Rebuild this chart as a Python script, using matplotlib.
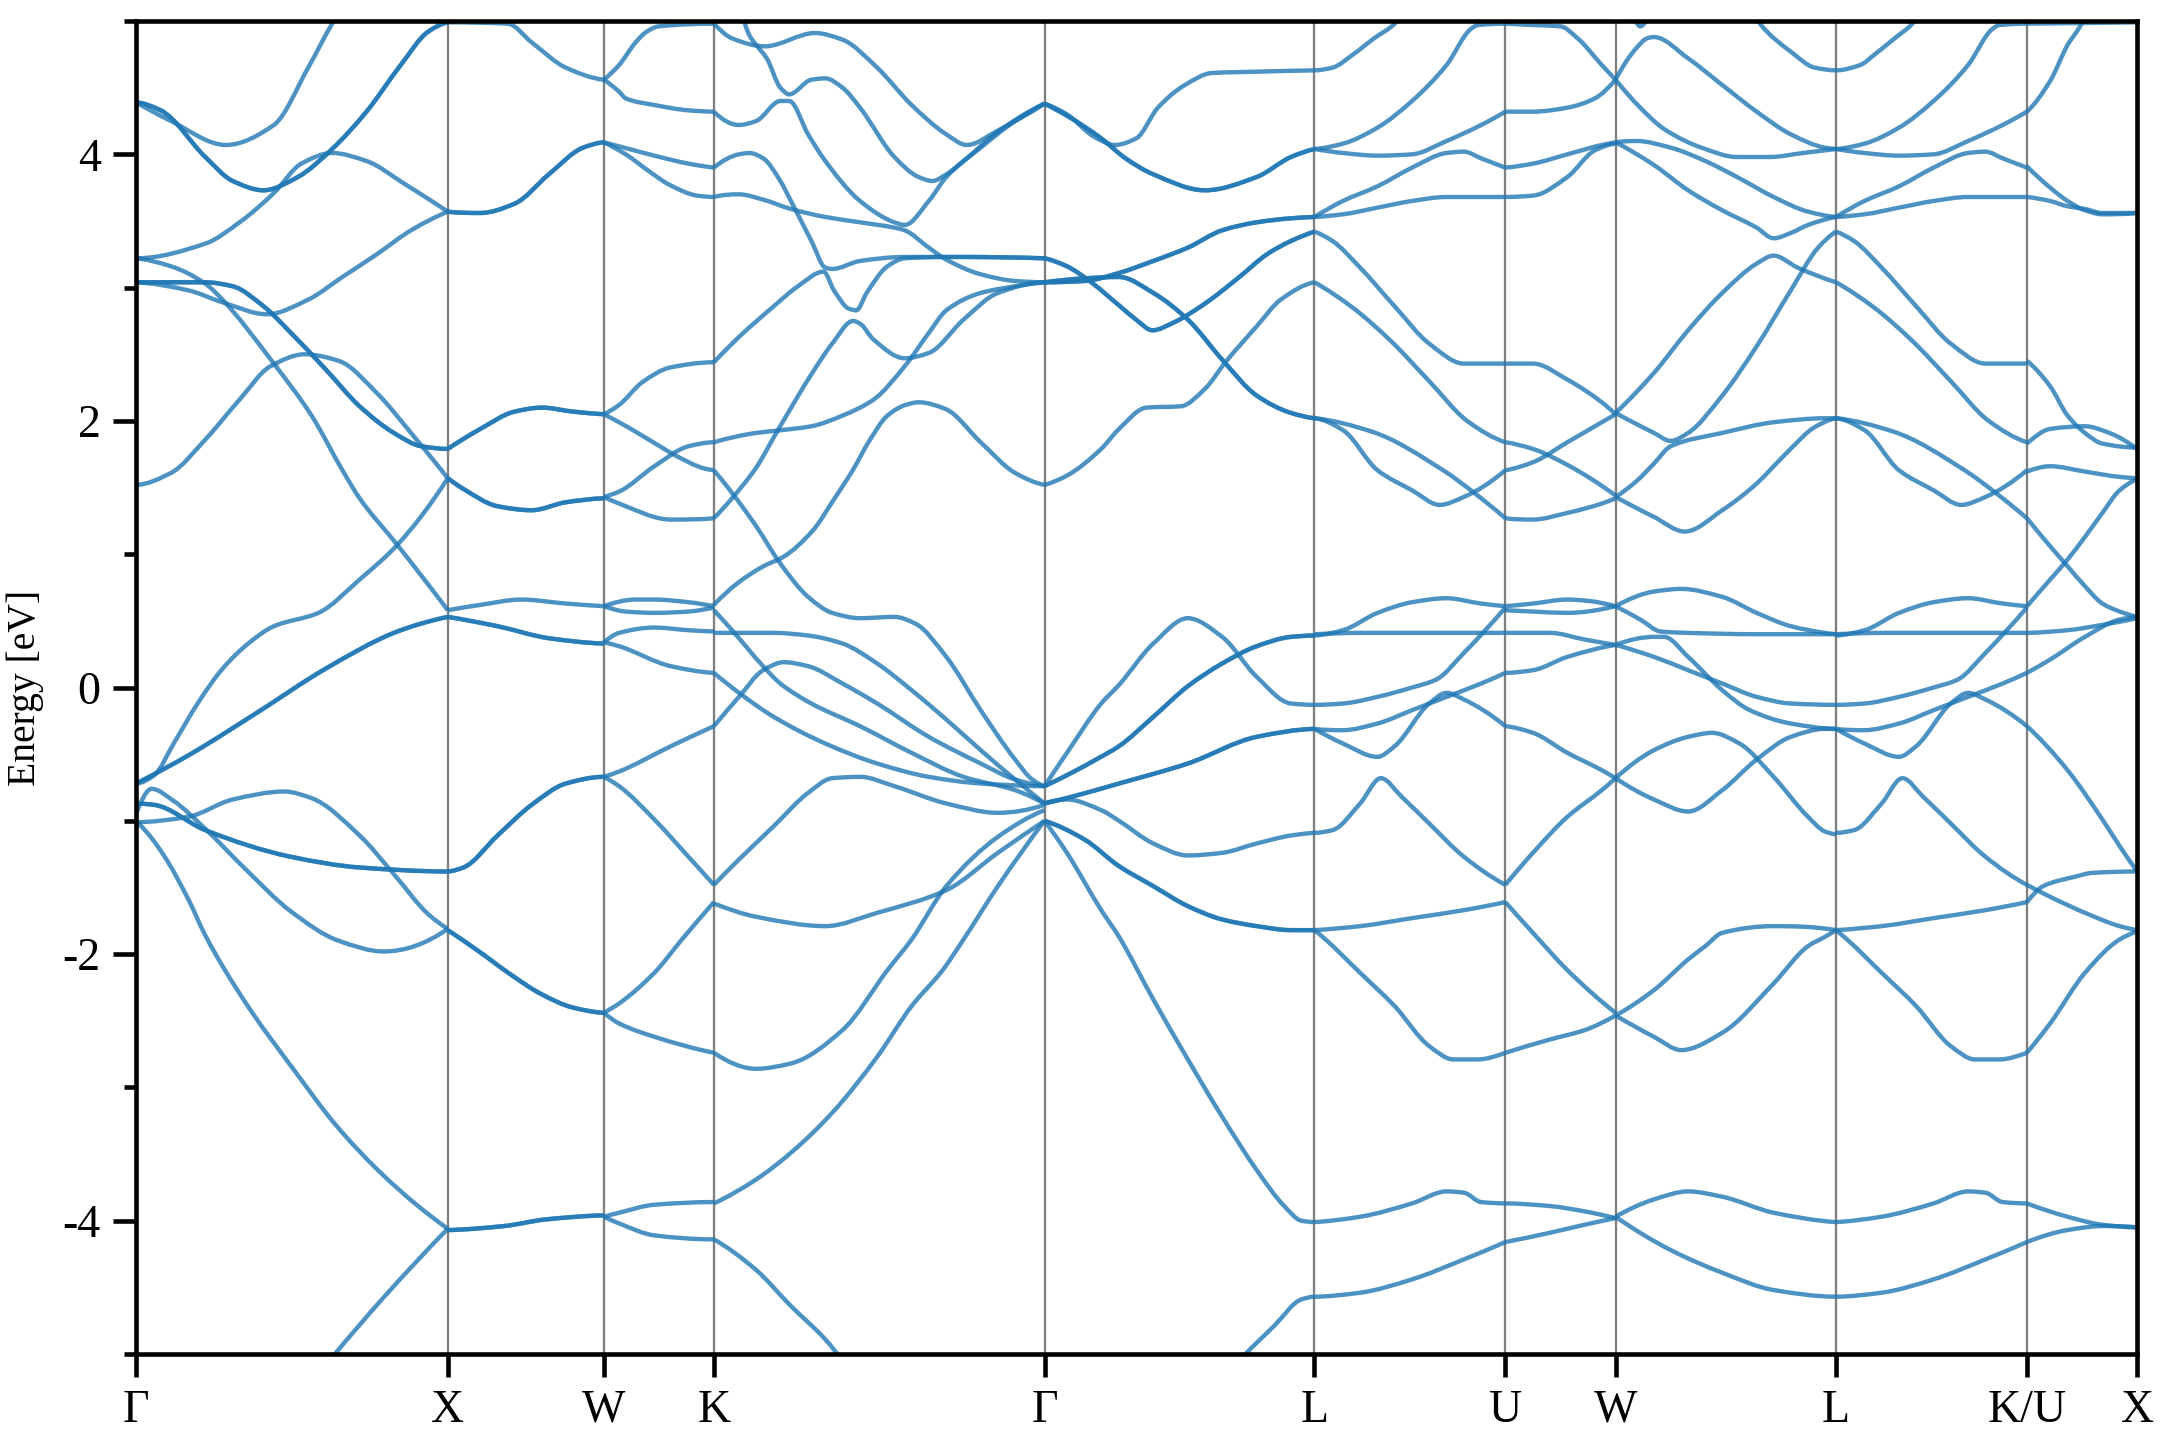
import matplotlib
matplotlib.use('Agg')
import matplotlib.pyplot as plt
from matplotlib.ticker import MultipleLocator
from matplotlib.path import Path
from matplotlib.patches import PathPatch
import numpy as np

plt.rcParams['font.family'] = ['Liberation Serif', 'DejaVu Serif']
plt.rcParams['axes.unicode_minus'] = False

# ---------------- data ----------------
kpath_labels = ['Γ', 'X', 'W', 'K', 'Γ', 'L', 'U', 'W', 'L', 'K/U', 'X']
seg_lengths = [1.0, 0.5, 0.35355, 1.06066, 0.86603, 0.61237, 0.35355, 0.70711, 0.61237, 0.35355]

# each band: (fraction along segment, energy [eV], degeneracy)
seg_GX = [
    ([0, .112, .288, .442, .552, .629, .662], [4.39, 4.25, 4.07, 4.22, 4.65, 4.98, 5.1], 1),
    ([0, .079, .222, .310, .409, .519, .629, .739, .849, .937, 1], [4.39, 4.33, 3.98, 3.80, 3.73, 3.83, 4.04, 4.32, 4.67, 4.92, 4.99], 2),
    ([0, .222, .332, .442, .530, .629, .739, .860, 1], [3.22, 3.33, 3.49, 3.71, 3.93, 4.01, 3.95, 3.78, 3.57], 1),
    ([0, .112, .222, .277, .442, .563, .662, .717, .838, 1], [3.22, 3.16, 3.03, 2.91, 2.43, 2.04, 1.63, 1.42, 1.07, .58], 1),
    ([0, .167, .277, .420, .552, .662, .772, .882, 1], [3.04, 2.98, 2.89, 2.80, 2.91, 3.08, 3.25, 3.43, 3.57], 1),
    ([0, .222, .310, .409, .497, .607, .717, .827, .915, 1], [3.04, 3.04, 3.01, 2.86, 2.66, 2.39, 2.11, 1.91, 1.81, 1.79], 2),
    ([0, .112, .222, .332, .431, .541, .651, .772, .882, 1], [1.52, 1.61, 1.86, 2.16, 2.41, 2.50, 2.45, 2.21, 1.91, 1.57], 1),
    ([0, .057, .123, .200, .277, .365, .442, .585, .717, .838, 1], [-.72, -.66, -.41, -.11, .14, .34, .46, .56, .81, 1.07, 1.57], 1),
    ([0, .167, .387, .607, .827, .915, 1], [-.72, -.51, -.19, .14, .41, .48, .53], 2),
    ([0, .167, .310, .475, .563, .717, .827, .937, 1], [-1.01, -.97, -.84, -.78, -.83, -1.11, -1.40, -1.70, -1.81], 1),
    ([0, .057, .222, .497, .717, 1], [-.87, -.88, -1.07, -1.27, -1.35, -1.38], 2),
    ([0, .05, .12, .222, .35, .497, .65, .794, 1], [-.95, -.76, -.85, -1.06, -1.36, -1.68, -1.90, -1.98, -1.81], 1),
    ([0, .05, .1, .17, .22, .28, .37, .51, .64, .78, .91, 1], [-1.0, -1.13, -1.30, -1.60, -1.85, -2.10, -2.43, -2.88, -3.28, -3.63, -3.90, -4.06], 1),
    ([.62, .8, 1], [-5.05, -4.56, -4.06], 1),
]

seg_XW = [
    ([0, .385, .538, .758, 1], [4.99, 4.98, 4.84, 4.65, 4.56], 1),
    ([0, .2], [4.99, 5.12], 1),
    ([0, .209, .429, .648, .868, 1], [3.57, 3.56, 3.63, 3.85, 4.05, 4.09], 2),
    ([0, .209, .429, .604, .802, 1], [1.79, 1.94, 2.07, 2.10, 2.07, 2.05], 2),
    ([0, .1, .319, .538, .758, 1], [1.57, 1.49, 1.36, 1.33, 1.39, 1.42], 2),
    ([0, .209, .473, .758, 1], [.58, .62, .66, .63, .61], 1),
    ([0, .319, .648, 1], [.53, .46, .37, .33], 2),
    ([0, .1, .319, .538, .758, 1], [-1.38, -1.35, -1.11, -.88, -.72, -.67], 2),
    ([0, .2, .4, .6, .8, 1], [-1.82, -1.98, -2.15, -2.30, -2.40, -2.44], 2),
    ([0, .36, .63, 1], [-4.07, -4.04, -3.99, -3.96], 2),
]

seg_WK = [
    ([0, .14, .29, .39, .5, 1], [4.56, 4.67, 4.84, 4.92, 4.96, 4.98], 1),
    ([0, .14, .2, .46, .77, 1], [4.56, 4.47, 4.42, 4.37, 4.33, 4.32], 1),
    ([0, .14, .46, .77, 1], [4.09, 4.06, 3.99, 3.93, 3.90], 1),
    ([0, .2, .4, .6, .85, 1], [4.09, 4.0, 3.88, 3.77, 3.69, 3.68], 1),
    ([0, .14, .35, .6, 1], [2.05, 2.12, 2.29, 2.40, 2.44], 1),
    ([0, .14, .51, .61, .93, 1], [2.05, 1.99, 1.81, 1.76, 1.64, 1.63], 1),
    ([0, .14, .46, .77, 1], [1.43, 1.47, 1.66, 1.81, 1.84], 1),
    ([0, .14, .61, 1], [1.43, 1.38, 1.26, 1.27], 1),
    ([0, .29, .46, .77, 1], [.61, .66, .66, .64, .61], 1),
    ([0, .2, .46, .77, 1], [.61, .57, .56, .57, .60], 1),
    ([0, .14, .46, .77, 1], [.34, .41, .45, .43, .42], 1),
    ([0, .14, .61, 1], [.34, .31, .16, .11], 1),
    ([0, .14, .61, 1], [-.67, -.63, -.44, -.29], 1),
    ([0, .14, .46, .77, 1], [-.67, -.74, -.99, -1.27, -1.48], 1),
    ([0, .14, .46, .71, 1], [-2.44, -2.37, -2.14, -1.89, -1.61], 1),
    ([0, .14, .46, 1], [-2.44, -2.52, -2.62, -2.74], 1),
    ([0, .14, .46, 1], [-3.97, -3.94, -3.88, -3.86], 1),
    ([0, .14, .46, 1], [-3.97, -4.02, -4.11, -4.14], 1),
]

seg_KG = [
    ([0, .055, .154, .306, .389, .494, .598, .703, .765, .86, 1], [4.98, 4.87, 4.81, 4.91, 4.86, 4.65, 4.37, 4.15, 4.07, 4.18, 4.38], 1),
    ([.085, .108, .128, .160, .201, .228, .295, .337, .389, .442, .546, .619, .661, .703, .755, .859, 1],
     [5.05, 4.89, 4.82, 4.72, 4.50, 4.45, 4.56, 4.57, 4.50, 4.35, 3.98, 3.83, 3.80, 3.85, 3.95, 4.17, 4.38], 1),
    ([0, .076, .128, .201, .228, .285, .337, .442, .546, .577, .650, .703, .807, .911, 1],
     [4.32, 4.22, 4.25, 4.40, 4.40, 4.15, 3.95, 3.65, 3.49, 3.47, 3.65, 3.83, 4.05, 4.25, 4.38], 1),
    ([0, .076, .108, .149, .201, .233, .295, .337, .358, .442, .577, .755, 1],
     [3.90, 4.00, 4.01, 3.97, 3.80, 3.65, 3.35, 3.15, 3.14, 3.20, 3.23, 3.23, 3.22], 1),
    ([0, .076, .181, .254, .332, .363, .410, .431, .462, .525, .577, .70, 1],
     [2.44, 2.63, 2.86, 3.01, 3.12, 2.98, 2.84, 2.83, 2.96, 3.16, 3.22, 3.23, 3.22], 1),
    ([0, .076, .149, .233, .337, .442, .546, .577, .650, .703, .807, .911, 1],
     [3.68, 3.70, 3.66, 3.59, 3.53, 3.49, 3.45, 3.43, 3.30, 3.21, 3.10, 3.05, 3.04], 1),
    ([0, .055, .128, .191, .295, .358, .421, .442, .483, .577, .650, .755, .859, 1],
     [1.27, 1.42, 1.65, 1.92, 2.35, 2.58, 2.75, 2.73, 2.61, 2.47, 2.51, 2.76, 2.96, 3.04], 1),
    ([0, .128, .201, .295, .389, .483, .577, .650, .703, .807, .911, 1],
     [1.84, 1.91, 1.93, 1.96, 2.04, 2.16, 2.41, 2.66, 2.83, 2.96, 3.01, 3.04], 1),
    ([0, .055, .128, .201, .285, .358, .442, .546, .609, .703, .807, .911, .963, 1],
     [1.63, 1.46, 1.21, .93, .68, .56, .52, .53, .48, .23, -.17, -.54, -.69, -.74], 1),
    ([0, .07, .15, .21, .30, .36, .42, .47, .525, .58, .62, .70, .807, .911, 1],
     [.62, .78, .91, .98, 1.18, 1.40, 1.63, 1.85, 2.04, 2.12, 2.14, 2.09, 1.84, 1.61, 1.52], 1),
    ([0, .055, .149, .201, .295, .442, .598, .755, .911, 1], [.58, .43, .16, .03, -.12, -.29, -.49, -.67, -.77, -.87], 1),
    ([0, .181, .285, .389, .494, .598, .703, .807, .911, 1], [.41, .41, .39, .33, .18, -.02, -.24, -.47, -.69, -.87], 1),
    ([0, .076, .181, .337, .494, .650, .807, 1], [.11, -.04, -.22, -.42, -.57, -.67, -.72, -.74], 1),
    ([0, .076, .149, .212, .285, .389, .494, .650, .807, .911, 1], [-.29, -.07, .13, .19, .16, .03, -.12, -.37, -.57, -.69, -.74], 1),
    ([0, .076, .181, .285, .358, .442, .546, .703, .859, 1], [-1.48, -1.29, -1.04, -.79, -.68, -.67, -.74, -.87, -.94, -.88], 1),
    ([0, .128, .337, .494, .703, .859, 1], [-1.62, -1.72, -1.79, -1.69, -1.52, -1.24, -1.0], 1),
    ([0, .128, .233, .389, .525, .598, .703, .859, 1], [-2.74, -2.86, -2.82, -2.57, -2.12, -1.89, -1.49, -1.12, -.92], 1),
    ([0, .128, .233, .358, .494, .598, .692, .755, .859, 1], [-3.87, -3.69, -3.49, -3.19, -2.77, -2.39, -2.12, -1.89, -1.49, -1.0], 1),
    ([0, .128, .233, .337, .389], [-4.14, -4.37, -4.64, -4.89, -5.05], 1),
]

seg_GL = [
    ([0, .083, .21, .30, .403, .594, .786, .913, 1], [4.38, 4.29, 4.12, 3.97, 3.85, 3.73, 3.83, 3.98, 4.04], 2),
    ([0, .083, .185, .26, .34, .42, .52, .62, .786, 1], [4.38, 4.30, 4.13, 4.07, 4.12, 4.35, 4.52, 4.61, 4.62, 4.63], 1),
    ([0, .083, .16, .28, .339, .40, .48, .594, .722, .824, .913, 1], [3.22, 3.16, 3.06, 2.86, 2.76, 2.68, 2.74, 2.88, 3.08, 3.25, 3.35, 3.42], 2),
    ([0, .15, .276, .403, .531, .658, .786, .913, 1], [3.04, 3.05, 3.11, 3.20, 3.30, 3.43, 3.49, 3.52, 3.53], 2),
    ([0, .15, .276, .403, .531, .658, .786, .913, 1], [3.04, 3.07, 3.08, 2.96, 2.76, 2.46, 2.19, 2.06, 2.02], 2),
    ([0, .083, .21, .276, .378, .505, .594, .67, .786, .875, 1], [1.52, 1.59, 1.79, 1.94, 2.10, 2.11, 2.24, 2.44, 2.71, 2.91, 3.04], 1),
    ([0, .083, .21, .276, .403, .531, .658, .786, .913, 1], [-.74, -.49, -.12, .02, .33, .52, .38, .08, -.12, -.13], 1),
    ([0, .1, .2, .276, .403, .531, .658, .786, .913, 1], [-.74, -.64, -.53, -.44, -.22, .01, .18, .31, .38, .39], 2),
    ([0, .1, .276, .531, .786, 1], [-.87, -.82, -.72, -.57, -.37, -.31], 2),
    ([0, .083, .21, .276, .403, .531, .658, .786, .913, 1], [-.87, -.84, -.92, -1.0, -1.17, -1.26, -1.24, -1.17, -1.11, -1.09], 1),
    ([0, .148, .276, .403, .531, .658, .786, .913, 1], [-1.0, -1.14, -1.34, -1.49, -1.64, -1.74, -1.79, -1.82, -1.82], 2),
    ([0, .083, .21, .276, .403, .531, .658, .786, .888, .952, 1], [-1.0, -1.24, -1.67, -1.87, -2.34, -2.79, -3.22, -3.62, -3.89, -4.0, -4.01], 1),
    ([.70, .735, .85, .952, 1], [-5.1, -5.02, -4.79, -4.59, -4.57], 1),
]

seg_LU = [
    ([0, .094, .203, .312, .42, .47], [4.63, 4.65, 4.75, 4.87, 4.98, 5.08], 1),
    ([0, .149, .33, .511, .692, .819, .857, 1], [4.04, 4.08, 4.20, 4.40, 4.67, 4.94, 4.97, 4.98], 1),
    ([0, .149, .33, .511, .692, .873, 1], [4.04, 4.01, 3.99, 4.0, 4.10, 4.22, 4.32], 1),
    ([0, .149, .33, .511, .692, .783, .873, 1], [3.53, 3.65, 3.76, 3.90, 4.01, 4.02, 3.97, 3.90], 1),
    ([0, .149, .33, .511, .692, .873, 1], [3.53, 3.55, 3.60, 3.65, 3.68, 3.68, 3.68], 1),
    ([0, .094, .239, .42, .601, .783, 1], [3.42, 3.35, 3.15, 2.86, 2.58, 2.43, 2.43], 1),
    ([0, .2, .4, .6, .8, 1], [3.04, 2.85, 2.60, 2.30, 2.0, 1.84], 1),
    ([0, .15, .33, .511, .656, .783, 1], [2.02, 1.93, 1.63, 1.48, 1.37, 1.43, 1.63], 1),
    ([0, .3, .674, .837, 1], [2.02, 1.92, 1.63, 1.46, 1.27], 1),
    ([0, .149, .33, .511, .692, .873, 1], [.39, .43, .56, .64, .67, .63, .61], 1),
    ([0, .24, .6, 1], [.40, .41, .41, .41], 1),
    ([0, .149, .33, .511, .638, .783, 1], [-.13, -.12, -.07, 0.0, .06, .26, .60], 1),
    ([0, .149, .33, .42, .601, .692, .783, 1], [-.31, -.42, -.52, -.44, -.12, -.04, -.09, -.29], 1),
    ([0, .149, .33, .511, .692, .873, 1], [-.31, -.32, -.27, -.17, -.07, .03, .11], 1),
    ([0, .094, .239, .348, .457, .601, .783, 1], [-1.09, -1.07, -.87, -.68, -.82, -1.02, -1.27, -1.48], 1),
    ([0, .239, .511, .783, 1], [-1.82, -1.79, -1.73, -1.67, -1.61], 1),
    ([0, .058, .239, .42, .601, .728, .855, 1], [-1.82, -1.89, -2.14, -2.39, -2.69, -2.79, -2.79, -2.74], 1),
    ([0, .239, .511, .692, .783, .873, 1], [-4.01, -3.97, -3.87, -3.78, -3.79, -3.86, -3.87], 1),
    ([0, .239, .511, .783, 1], [-4.57, -4.54, -4.44, -4.29, -4.16], 1),
]

seg_UW = [
    ([0, .25, .5, .656, .875, 1], [4.98, 4.97, 4.96, 4.87, 4.67, 4.56], 1),
    ([0, .25, .5625, .8125, 1], [4.32, 4.32, 4.35, 4.42, 4.56], 1),
    ([0, .25, .5625, .875, 1], [3.90, 3.93, 4.0, 4.07, 4.09], 1),
    ([0, .25, .5625, .8125, 1], [3.68, 3.69, 3.83, 4.03, 4.08], 1),
    ([0, .25, .5625, .875, 1], [2.43, 2.43, 2.31, 2.14, 2.05], 1),
    ([0, .25, .5625, 1], [1.63, 1.69, 1.84, 2.05], 1),
    ([0, .25, .5625, 1], [1.84, 1.79, 1.67, 1.44], 1),
    ([0, .25, .5625, .875, 1], [1.27, 1.26, 1.31, 1.38, 1.42], 1),
    ([0, .25, .5625, .75, 1], [.61, .63, .66, .65, .61], 1),
    ([0, .25, .5625, 1], [.58, .57, .56, .61], 1),
    ([0, .406, .72, 1], [.41, .41, .36, .32], 1),
    ([0, .25, .5625, 1], [.11, .13, .23, .32], 1),
    ([0, .25, .5625, .875, 1], [-.29, -.34, -.49, -.62, -.68], 1),
    ([0, .25, .5625, .875, 1], [-1.48, -1.24, -.97, -.77, -.68], 1),
    ([0, .25, .5625, 1], [-1.61, -1.84, -2.12, -2.44], 1),
    ([0, .406, .72, 1], [-2.74, -2.64, -2.57, -2.46], 1),
    ([0, .406, .72, 1], [-3.87, -3.89, -3.93, -3.98], 1),
    ([0, .406, .72, 1], [-4.16, -4.09, -4.03, -3.98], 1),
]

seg_WL = [
    ([.05, .09, .112, .14, .18], [5.1, 5.0, 4.96, 5.0, 5.1], 1),
    ([0, .096, .143, .174, .329, .484, .64, .795, .95, 1], [4.56, 4.80, 4.87, 4.88, 4.72, 4.52, 4.32, 4.15, 4.05, 4.04], 1),
    ([0, .112, .22, .39, .55, .70, .85, 1], [4.56, 4.35, 4.19, 4.05, 3.98, 3.98, 4.01, 4.04], 1),
    ([0, .096, .25, .407, .562, .717, .873, 1], [4.09, 4.10, 4.05, 3.95, 3.82, 3.68, 3.57, 3.53], 1),
    ([0, .174, .329, .484, .64, .717, .795, .873, 1], [4.09, 3.92, 3.73, 3.58, 3.45, 3.37, 3.41, 3.47, 3.53], 1),
    ([0, .174, .329, .484, .64, .717, .826, 1], [2.06, 2.36, 2.68, 2.96, 3.18, 3.24, 3.15, 3.04], 1),
    ([0, .174, .25, .329, .484, .64, .795, .919, 1], [2.06, 1.91, 1.85, 1.91, 2.19, 2.56, 2.98, 3.30, 3.42], 1),
    ([0, .096, .174, .25, .484, .717, .95, 1], [1.43, 1.55, 1.68, 1.81, 1.91, 1.99, 2.02, 2.02], 1),
    ([0, .174, .314, .484, .64, .70, .80, .9, 1], [1.43, 1.28, 1.17, 1.33, 1.53, 1.63, 1.80, 1.95, 2.02], 1),
    ([0, .174, .298, .484, .64, .795, .95, 1], [.61, .72, .74, .68, .56, .46, .41, .40], 1),
    ([0, .112, .205, .329, .64, 1], [.61, .51, .42, .41, .40, .40], 1),
    ([0, .174, .22, .329, .484, .609, .795, 1], [.32, .38, .38, .23, -.02, -.17, -.27, -.31], 1),
    ([0, .174, .329, .484, .64, .795, 1], [.32, .23, .13, .03, -.07, -.12, -.13], 1),
    ([0, .174, .329, .438, .562, .717, .873, .95, 1], [-.68, -.47, -.37, -.34, -.42, -.67, -.97, -1.08, -1.10], 1),
    ([0, .174, .329, .484, .64, .795, .95, 1], [-.68, -.84, -.93, -.77, -.54, -.37, -.31, -.31], 1),
    ([0, .174, .329, .407, .484, .717, 1], [-2.46, -2.27, -2.04, -1.94, -1.84, -1.79, -1.82], 1),
    ([0, .174, .298, .484, .717, .873, .95, 1], [-2.46, -2.62, -2.72, -2.59, -2.22, -1.94, -1.87, -1.82], 1),
    ([0, .174, .329, .484, .717, 1], [-3.97, -3.84, -3.78, -3.82, -3.94, -4.01], 1),
    ([0, .25, .484, .717, 1], [-3.97, -4.22, -4.39, -4.52, -4.57], 1),
    ([.62, .655, .795, .904, 1], [5.08, 4.98, 4.77, 4.65, 4.63], 1),
]

seg_LK = [
    ([0, .127, .203, .307, .40, .45], [4.63, 4.67, 4.75, 4.87, 4.98, 5.08], 1),
    ([0, .149, .33, .511, .692, .819, .857, 1], [4.04, 4.08, 4.20, 4.40, 4.67, 4.94, 4.97, 4.98], 1),
    ([0, .149, .33, .511, .692, .873, 1], [4.04, 4.01, 3.99, 4.0, 4.10, 4.22, 4.32], 1),
    ([0, .149, .33, .511, .692, .783, .873, 1], [3.53, 3.65, 3.76, 3.90, 4.01, 4.02, 3.97, 3.90], 1),
    ([0, .149, .33, .511, .692, .873, 1], [3.53, 3.55, 3.60, 3.65, 3.68, 3.68, 3.68], 1),
    ([0, .094, .239, .42, .601, .783, 1], [3.42, 3.35, 3.15, 2.86, 2.58, 2.43, 2.43], 1),
    ([0, .2, .4, .6, .8, 1], [3.04, 2.85, 2.60, 2.30, 2.0, 1.84], 1),
    ([0, .15, .33, .511, .656, .783, 1], [2.02, 1.93, 1.63, 1.48, 1.37, 1.43, 1.63], 1),
    ([0, .3, .674, .837, 1], [2.02, 1.92, 1.63, 1.46, 1.27], 1),
    ([0, .149, .33, .511, .692, .873, 1], [.39, .43, .56, .64, .67, .63, .61], 1),
    ([0, .24, .6, 1], [.40, .41, .41, .41], 1),
    ([0, .149, .33, .511, .638, .783, 1], [-.13, -.12, -.07, 0.0, .06, .26, .60], 1),
    ([0, .149, .33, .42, .601, .692, .783, 1], [-.31, -.42, -.52, -.44, -.12, -.04, -.09, -.29], 1),
    ([0, .149, .33, .511, .692, .873, 1], [-.31, -.32, -.27, -.17, -.07, .03, .11], 1),
    ([0, .094, .239, .348, .457, .601, .783, 1], [-1.09, -1.07, -.87, -.68, -.82, -1.02, -1.27, -1.48], 1),
    ([0, .239, .511, .783, 1], [-1.82, -1.79, -1.73, -1.67, -1.61], 1),
    ([0, .058, .239, .42, .601, .728, .855, 1], [-1.82, -1.89, -2.14, -2.39, -2.69, -2.79, -2.79, -2.74], 1),
    ([0, .239, .511, .692, .783, .873, 1], [-4.01, -3.97, -3.87, -3.78, -3.79, -3.86, -3.87], 1),
    ([0, .239, .511, .783, 1], [-4.57, -4.54, -4.44, -4.29, -4.16], 1),
]

seg_KX = [
    ([0, 1], [4.98, 4.99], 1),
    ([0, .211, .369, .495, .55], [4.32, 4.55, 4.82, 4.98, 5.1], 1),
    ([0, .211, .369, .527, .685, 1], [3.91, 3.75, 3.65, 3.58, 3.55, 3.56], 1),
    ([0, .211, .369, .527, .685, 1], [3.68, 3.65, 3.61, 3.59, 3.56, 3.56], 1),
    ([0, .211, .369, .527, .685, 1], [2.45, 2.26, 2.04, 1.91, 1.83, 1.80], 1),
    ([0, .211, .527, .748, 1], [1.83, 1.94, 1.96, 1.91, 1.79], 1),
    ([0, .211, .527, .842, 1], [1.62, 1.66, 1.62, 1.58, 1.57], 1),
    ([0, .211, .369, .527, .685, .842, 1], [.61, .81, .96, 1.13, 1.31, 1.48, 1.56], 1),
    ([0, .211, .369, .527, .685, .842, 1], [1.27, 1.06, .91, .76, .63, .57, .53], 1),
    ([0, .369, .685, 1], [.41, .43, .47, .52], 1),
    ([0, .211, .527, .842, 1], [.11, .21, .38, .51, .53], 1),
    ([0, .369, .685, .842, 1], [-.29, -.62, -.99, -1.19, -1.38], 1),
    ([0, .211, .527, .842, 1], [-1.48, -1.57, -1.69, -1.79, -1.82], 1),
    ([0, .148, .432, .6, 1], [-1.61, -1.49, -1.42, -1.39, -1.38], 1),
    ([0, .211, .527, .842, 1], [-2.74, -2.52, -2.14, -1.89, -1.83], 1),
    ([0, .369, .685, 1], [-3.87, -3.97, -4.03, -4.05], 1),
    ([0, .369, .685, 1], [-4.16, -4.07, -4.04, -4.05], 1),
]

segments = [seg_GX, seg_XW, seg_WK, seg_KG, seg_GL, seg_LU, seg_UW, seg_WL, seg_LK, seg_KX]


# ---------------- drawing helpers ----------------
def pchip_slopes(x, y):
    h = np.diff(x)
    d = np.diff(y) / h
    n = len(x)
    m = np.zeros(n)
    if n == 2:
        m[:] = d[0]
        return m
    for i in range(1, n - 1):
        if d[i - 1] * d[i] <= 0:
            m[i] = 0.0
        else:
            w1 = 2 * h[i] + h[i - 1]
            w2 = h[i] + 2 * h[i - 1]
            m[i] = (w1 + w2) / (w1 / d[i - 1] + w2 / d[i])

    def end(h0, h1, d0, d1):
        mm = ((2 * h0 + h1) * d0 - h0 * d1) / (h0 + h1)
        if np.sign(mm) != np.sign(d0):
            mm = 0.0
        elif np.sign(d0) != np.sign(d1) and abs(mm) > 3 * abs(d0):
            mm = 3 * d0
        return mm

    m[0] = end(h[0], h[1], d[0], d[1])
    m[-1] = end(h[-1], h[-2], d[-1], d[-2])
    return m


def smooth_path(x, y):
    x = np.asarray(x, float)
    y = np.asarray(y, float)
    m = pchip_slopes(x, y)
    verts = [(x[0], y[0])]
    codes = [Path.MOVETO]
    for i in range(len(x) - 1):
        h = x[i + 1] - x[i]
        verts += [(x[i] + h / 3, y[i] + m[i] * h / 3),
                  (x[i + 1] - h / 3, y[i + 1] - m[i + 1] * h / 3),
                  (x[i + 1], y[i + 1])]
        codes += [Path.CURVE4] * 3
    return Path(verts, codes)


# ---------------- plot ----------------
ticks = np.concatenate([[0.0], np.cumsum(seg_lengths)])

fig = plt.figure(figsize=(7.2, 4.8), dpi=300)
ax = fig.add_axes([0.063, 0.0597, 0.9264, 0.9257])

for xv in ticks[1:-1]:
    ax.axvline(xv, color='#7f7f7f', lw=0.55, zorder=1)

band_color = '#1f77b4'
for i, seg in enumerate(segments):
    k0, k1 = ticks[i], ticks[i + 1]
    for t, E, n in seg:
        k = k0 + np.asarray(t, dtype=float) * (k1 - k0)
        for _ in range(n):
            ax.add_patch(PathPatch(smooth_path(k, E), fill=False, edgecolor=band_color,
                                   alpha=0.8, lw=1.05, joinstyle='round',
                                   capstyle='butt', zorder=2))

ax.set_xlim(ticks[0], ticks[-1])
ax.set_ylim(-5, 5)
ax.set_xticks(ticks)
ax.set_xticklabels(kpath_labels)
ax.set_yticks([-4, -2, 0, 2, 4])
ax.yaxis.set_minor_locator(MultipleLocator(1))
ax.tick_params(axis='both', which='major', direction='out', length=5.5, width=1.1,
               labelsize=11, pad=3)
ax.tick_params(axis='y', which='minor', direction='out', length=2.8, width=1.1)
ax.tick_params(top=False, right=False)
for sp in ax.spines.values():
    sp.set_linewidth(1.1)
ax.set_ylabel('Energy [eV]', fontsize=9.5, labelpad=4.5)

fig.savefig('out.png', dpi=300)
